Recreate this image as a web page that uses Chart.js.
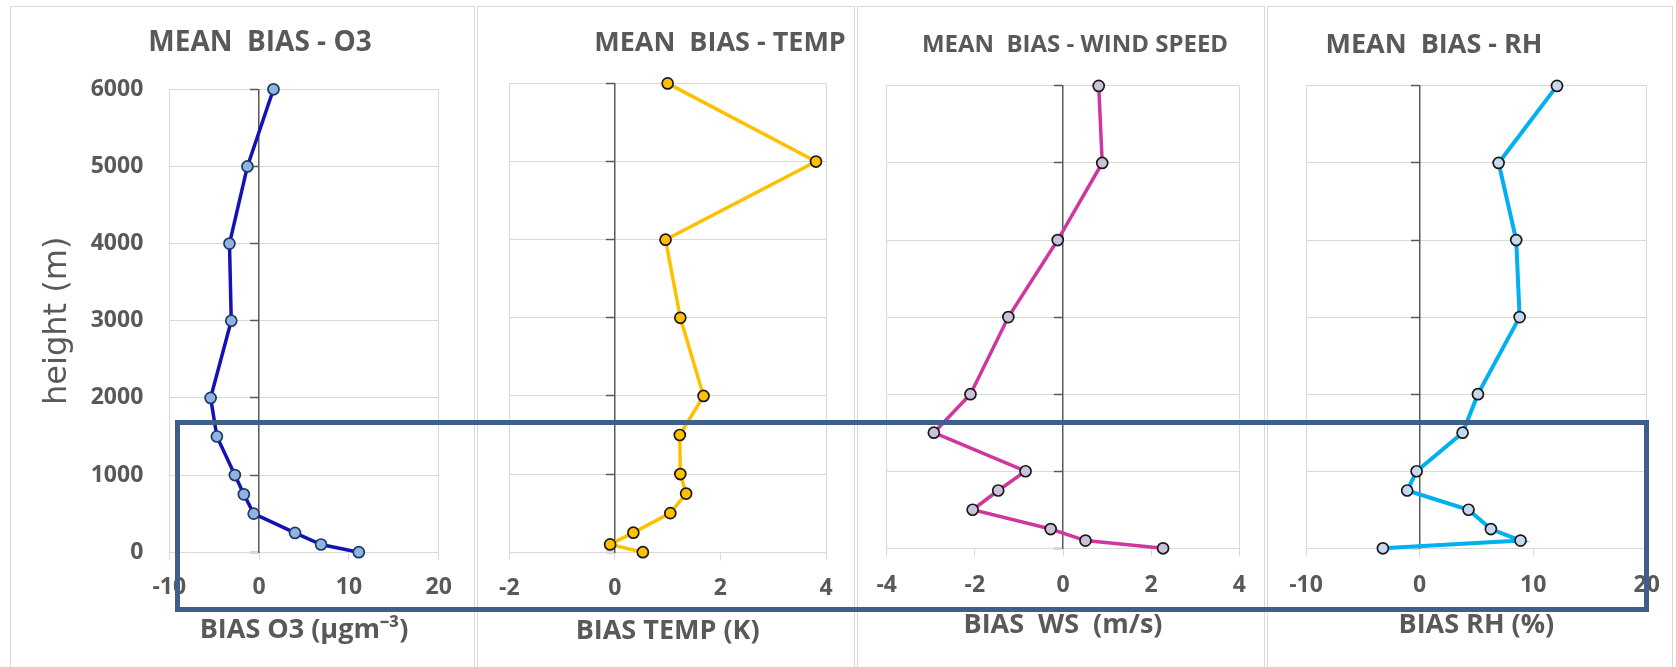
<!DOCTYPE html>
<html>
<head>
<meta charset="utf-8">
<script src="https://cdn.jsdelivr.net/npm/chart.js@4.4.1/dist/chart.umd.min.js"></script>
<style>
  html, body { margin: 0; padding: 0; background: #fff; }
  #stage { position: relative; width: 1676px; height: 667px; overflow: hidden; }
  .frame { position: absolute; top: 6px; height: 700px; border: 1.5px solid #d9d9d9; box-sizing: border-box; }
  .holder { position: absolute; top: 0; height: 667px; }
  #box { position: absolute; left: 175px; top: 420px; width: 1474px; height: 192px; border: 5px solid #3f5f8a; box-sizing: border-box; z-index: 5; }
</style>
</head>
<body>
<div id="stage"><div id="box"></div></div>
<script>
// heights (m) shared by all four profiles
const heights = [6000, 5000, 4000, 3000, 2000, 1500, 1000, 750, 500, 250, 100, 0];
const biasO3 = [1.6, -1.3, -3.3, -3.1, -5.4, -4.7, -2.7, -1.7, -0.6, 4.0, 6.9, 11.1];
const biasTemp = [1.0, 3.81, 0.96, 1.24, 1.68, 1.23, 1.24, 1.35, 1.05, 0.35, -0.09, 0.53];
const biasWS = [0.81, 0.89, -0.12, -1.24, -2.1, -2.93, -0.85, -1.47, -2.05, -0.28, 0.51, 2.27];
const biasRH = [12.1, 6.96, 8.51, 8.81, 5.14, 3.79, -0.26, -1.09, 4.31, 6.28, 8.89, -3.23];

const chartTitles = ['MEAN  BIAS - O3', 'MEAN  BIAS - TEMP', 'MEAN  BIAS - WIND SPEED', 'MEAN  BIAS - RH'];
const xTitles = ['BIAS O3 (µgm⁻³)', 'BIAS TEMP (K)', 'BIAS  WS  (m/s)', 'BIAS RH (%)'];
const xRanges = [[-10, 20, 10], [-2, 4, 2], [-4, 4, 2], [-10, 20, 10]];
const yTitle = 'height (m)';

// page layout (px): canvas span, frame edges, plot area [l, r, t, b], label rows, heading centre
const panels = [
  { left: 0, width: 476, frame: [10, 475], area: [169.3, 438.7, 89.3, 552.2], tickY: 587, titleY: 630, headX: 260, headY: 43.5, headSize: 28 },
  { left: 476, width: 380, frame: [477, 855], area: [509.3, 826, 83.4, 552.2], tickY: 588, titleY: 631, headX: 720, headY: 43.5, headSize: 27 },
  { left: 856, width: 410, frame: [857, 1265], area: [886.7, 1239.3, 85.9, 548.3], tickY: 585, titleY: 625, headX: 1075, headY: 45.5, headSize: 24 },
  { left: 1266, width: 410, frame: [1267, 1673], area: [1306, 1646.7, 85.9, 548.3], tickY: 585, titleY: 625, headX: 1434, headY: 45.5, headSize: 27 }
];
const styles = [
  { line: '#1212b8', fill: '#8db4e2', edge: '#1f3864', width: 3.5 },
  { line: '#ffc000', fill: '#ffc000', edge: '#1a1a1a', width: 3.5 },
  { line: '#cf37a0', fill: '#ccc0da', edge: '#1a1a1a', width: 3.5 },
  { line: '#00b0f0', fill: '#c6d9f1', edge: '#1a1a1a', width: 4 }
];
const grey = '#595959';
const light = '#d9d9d9';

const panelHead = {
  id: 'panelHead',
  afterDraw(chart, args, opts) {
    const ctx = chart.ctx;
    ctx.save();
    ctx.font = 'bold ' + opts.size + 'px "Open Sans"';
    ctx.fillStyle = grey;
    ctx.textAlign = 'center';
    ctx.textBaseline = 'middle';
    ctx.fillText(opts.text, opts.x, opts.y);
    ctx.restore();
  }
};

function makeChart(i, values) {
  const p = panels[i], s = styles[i];
  const [xMin, xMax, xStep] = xRanges[i];
  const stage = document.getElementById('stage');

  const frame = document.createElement('div');
  frame.className = 'frame';
  frame.style.left = p.frame[0] + 'px';
  frame.style.width = (p.frame[1] - p.frame[0]) + 'px';
  stage.appendChild(frame);

  const holder = document.createElement('div');
  holder.className = 'holder';
  holder.style.left = p.left + 'px';
  holder.style.width = p.width + 'px';
  const canvas = document.createElement('canvas');
  canvas.width = p.width;
  canvas.height = 667;
  holder.appendChild(canvas);
  stage.appendChild(holder);

  const yW = i === 0 ? 159 : 1;
  const xH = p.titleY + 16.2 - p.area[3];
  const tickLen = 8;
  const labelFont = { family: 'Open Sans', size: 23, weight: 'bold' };

  return new Chart(canvas, {
    type: 'scatter',
    data: {
      datasets: [{
        data: heights.map((h, k) => ({ x: values[k], y: h })),
        yAxisID: 'y',
        showLine: true,
        clip: false,
        borderColor: s.line,
        borderWidth: s.width,
        pointRadius: 5.5,
        pointBackgroundColor: s.fill,
        pointBorderColor: s.edge,
        pointBorderWidth: 1.7
      }]
    },
    options: {
      responsive: false,
      animation: false,
      events: [],
      layout: {
        padding: {
          left: p.area[0] - p.left - yW,
          right: p.left + p.width - p.area[1],
          top: p.area[2],
          bottom: 667 - p.area[3] - xH
        }
      },
      plugins: {
        legend: { display: false },
        tooltip: { enabled: false },
        panelHead: { text: chartTitles[i], x: p.headX - p.left, y: p.headY, size: p.headSize }
      },
      scales: {
        x: {
          type: 'linear', min: xMin, max: xMax,
          ticks: { stepSize: xStep, padding: p.tickY - 13.8 - p.area[3] - tickLen, font: labelFont, color: grey },
          grid: {
            color: c => (c.tick && (c.tick.value === xMin || c.tick.value === xMax)) ? light : 'rgba(0,0,0,0)',
            tickColor: light, tickLength: tickLen
          },
          border: { color: light },
          title: { display: true, text: xTitles[i], font: { family: 'Open Sans', size: 27, weight: 'bold' }, color: grey, padding: 0 },
          afterFit: sc => { sc.height = xH; }
        },
        y: {
          type: 'linear', min: 0, max: 6000,
          ticks: { display: i === 0, stepSize: 1000, padding: 26, font: labelFont, color: grey, callback: v => String(v) },
          grid: { color: light, drawTicks: false },
          border: { color: light },
          title: { display: i === 0, text: yTitle, font: { family: 'DejaVu Sans', size: 32 }, color: grey, padding: { top: 28, bottom: 0 } },
          afterFit: sc => { sc.width = yW; }
        },
        y0: {
          type: 'linear', axis: 'y', position: { x: 0 }, min: 0, max: 6000,
          ticks: { display: false, stepSize: 1000 },
          grid: { drawOnChartArea: false, tickLength: 8, tickColor: grey, tickWidth: 1.5 },
          border: { color: grey, width: 1.5 }
        }
      }
    },
    plugins: [panelHead]
  });
}

makeChart(0, biasO3);
makeChart(1, biasTemp);
makeChart(2, biasWS);
makeChart(3, biasRH);
</script>
</body>
</html>
